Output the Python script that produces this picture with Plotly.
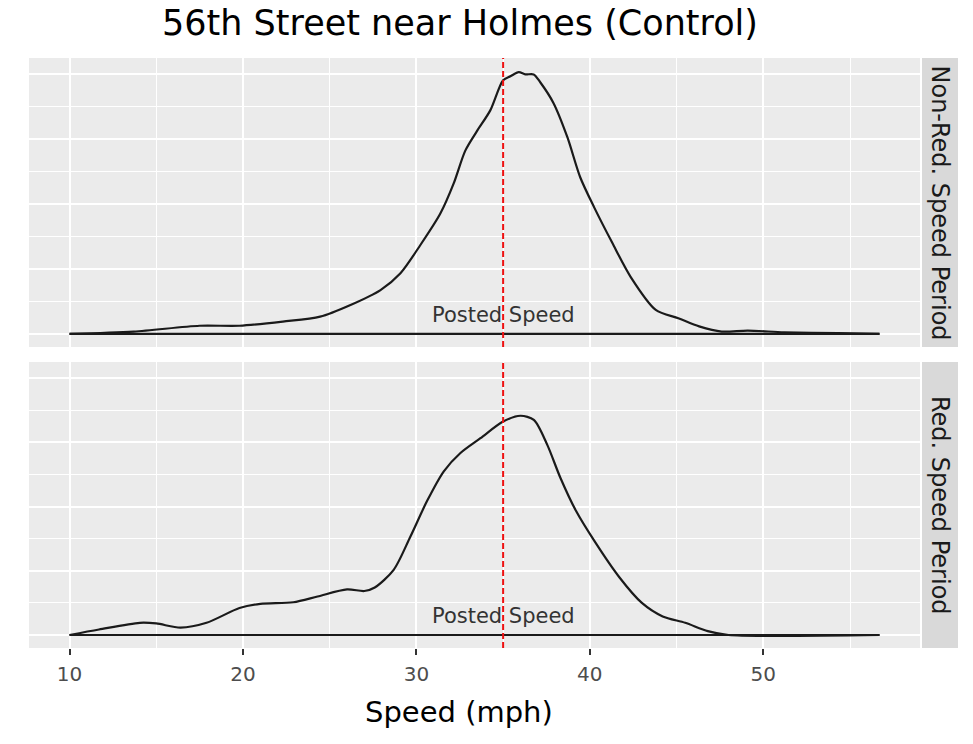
import plotly.graph_objects as go

# ---- data ----
speed_nonred = [10.0, 13.7, 17.5, 19.8, 22.3, 24.45, 26.2, 27.93, 29.08, 30.23, 31.38, 32.15, 32.82,
                33.49, 34.26, 35.0, 35.42, 35.9, 36.28, 36.76, 37.15, 37.9, 38.7, 39.45, 40.25,
                41.3, 42.35, 43.8, 45.1, 46.3, 47.6, 49.1, 51.2, 54.3, 56.7]
dens_nonred = [0.0, 0.0007, 0.0025, 0.0025, 0.0038, 0.0053, 0.0089, 0.0135, 0.0187, 0.0274, 0.0371,
               0.0464, 0.0565, 0.0625, 0.0689, 0.0782, 0.0794, 0.0807, 0.0800, 0.0800, 0.0775,
               0.0712, 0.0607, 0.0482, 0.0390, 0.0280, 0.0176, 0.0074, 0.0048, 0.0023, 0.0007,
               0.0010, 0.0005, 0.0002, 0.0]

speed_red = [10.0, 11.7, 14.05, 15.0, 16.4, 17.9, 19.8, 21.0, 22.9, 24.3, 26.0, 27.0, 27.6, 28.69,
             29.65, 30.62, 31.58, 32.54, 33.69, 35.0, 36.0, 36.77, 37.54, 38.3, 39.2, 40.25, 41.7,
             43.0, 44.2, 45.5, 46.8, 48.0, 56.7]
dens_red = [0.0, 0.0017, 0.0038, 0.0036, 0.0023, 0.0038, 0.0084, 0.0097, 0.0102, 0.0120, 0.0142,
            0.0137, 0.0148, 0.0203, 0.0306, 0.0418, 0.0510, 0.0567, 0.0613, 0.0665, 0.0683, 0.0670,
            0.0593, 0.0490, 0.0387, 0.0294, 0.0180, 0.0100, 0.0058, 0.0038, 0.0012, 0.0, 0.0]

POSTED_SPEED = 35
panel_labels = ["Non-Red. Speed Period", "Red. Speed Period"]
x_ticks = [10, 20, 30, 40, 50]
y_grid = [0, 0.02, 0.04, 0.06, 0.08]

W, H = 973, 744
FONT = "DejaVu Sans"

fig = go.Figure()

panels = [("x2", "y2", speed_nonred, dens_nonred), ("x", "y", speed_red, dens_red)]
for xa, ya, xs, ds in panels:
    fig.add_trace(go.Scatter(x=xs, y=ds, xaxis=xa, yaxis=ya, mode="lines",
                             line=dict(color="#1a1a1a", width=2.2, shape="spline", smoothing=0.8),
                             showlegend=False, hoverinfo="skip"))
    fig.add_trace(go.Scatter(x=[xs[0], xs[-1]], y=[0, 0], xaxis=xa, yaxis=ya, mode="lines",
                             line=dict(color="#1a1a1a", width=2.2),
                             showlegend=False, hoverinfo="skip"))
    fig.add_annotation(x=POSTED_SPEED, y=0.0058, xref=xa, yref=ya, text="Posted Speed",
                       showarrow=False, font=dict(family=FONT, size=21, color="#333333"),
                       xanchor="center", yanchor="middle")
    fig.add_shape(type="line", x0=POSTED_SPEED, x1=POSTED_SPEED, y0=0, y1=1,
                  xref=xa, yref=f"{ya} domain",
                  line=dict(color="#ee1111", width=2, dash="6px,3px"))

xl, xr = 29 / W, 920 / W
dom1 = [(H - 347) / H, (H - 58) / H]
dom2 = [(H - 648) / H, (H - 362) / H]
xrange = [7.665, 59.035]
yrange = [-0.00405, 0.08505]

axis_common = dict(range=xrange, showgrid=True, gridcolor="white", gridwidth=1.6,
                   zeroline=False, showline=False,
                   minor=dict(dtick=5, showgrid=True, gridcolor="white", gridwidth=0.8),
                   tickvals=x_ticks)
yaxis_common = dict(range=yrange, tickvals=y_grid, showticklabels=False, ticks="",
                    showgrid=True, gridcolor="white", gridwidth=1.6, zeroline=False,
                    minor=dict(dtick=0.01, showgrid=True, gridcolor="white", gridwidth=0.8))
fig.update_layout(
    width=W, height=H,
    margin=dict(l=0, r=0, t=0, b=0),
    paper_bgcolor="white", plot_bgcolor="#ebebeb",
    showlegend=False,
    xaxis=dict(domain=[xl, xr], anchor="y", ticks="outside", ticklen=6, tickwidth=2,
               tickcolor="#333333", ticklabelstandoff=2,
               tickfont=dict(family=FONT, size=20, color="#4d4d4d"),
               **axis_common),
    xaxis2=dict(domain=[xl, xr], anchor="y2", matches="x", showticklabels=False, ticks="",
                **axis_common),
    yaxis=dict(domain=dom2, **yaxis_common),
    yaxis2=dict(domain=dom1, **yaxis_common),
    title=dict(text="56th Street near Holmes (Control)", x=460 / W, xanchor="center",
               y=1 - 23 / H, yanchor="middle",
               font=dict(family=FONT, size=35, color="#000000")),
)

# x-axis title
fig.add_annotation(xref="paper", yref="paper", x=459 / W, y=1 - 712 / H,
                   text="Speed (mph)", showarrow=False, xanchor="center", yanchor="middle",
                   font=dict(family=FONT, size=29, color="#000000"))

# facet strips
for label, dom in zip(panel_labels, [dom1, dom2]):
    fig.add_shape(type="rect", xref="paper", yref="paper", x0=922 / W, x1=958 / W,
                  y0=dom[0], y1=dom[1], fillcolor="#d9d9d9", line=dict(width=0), layer="below")
    fig.add_annotation(xref="paper", yref="paper", x=940 / W, y=(dom[0] + dom[1]) / 2,
                       text=label, textangle=90, showarrow=False,
                       font=dict(family=FONT, size=24, color="#1a1a1a"),
                       xanchor="center", yanchor="middle")

fig.write_html("out.html")
